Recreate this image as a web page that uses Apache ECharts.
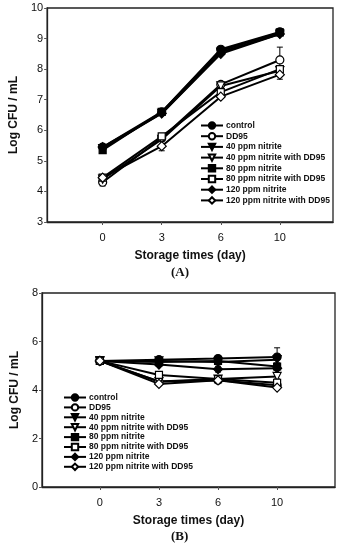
<!DOCTYPE html>
<html><head><meta charset="utf-8">
<script src="https://cdn.jsdelivr.net/npm/echarts@6/dist/echarts.min.js"></script>
<style>html,body{margin:0;padding:0;background:#fff}#c{width:349px;height:550px}</style>
</head><body><div id="c"></div>
<script>
const days = ['0', '3', '6', '10'];
const seriesNames = ['control', 'DD95', '40 ppm nitrite', '40 ppm nitrite with DD95', '80 ppm nitrite', '80 ppm nitrite with DD95', '120 ppm nitrite', '120 ppm nitrite with DD95'];
const yTicksA = [3, 4, 5, 6, 7, 8, 9, 10];
const yTicksB = [0, 2, 4, 6, 8];
// Panel A values
const A_control = [5.45, 6.6, 8.65, 9.22];
const A_DD95 = [4.3, 5.75, 7.5, 8.3];
const A_40 = [5.4, 6.55, 8.55, 9.15];
const A_40DD = [4.4, 5.7, 7.45, 7.95];
const A_80 = [5.35, 6.6, 8.6, 9.2];
const A_80DD = [4.45, 5.8, 7.25, 8.0];
const A_120 = [5.45, 6.55, 8.5, 9.15];
const A_120DD = [4.45, 5.48, 7.1, 7.82];
// Panel B values
const B_control = [5.2, 5.25, 5.3, 5.36];
const B_DD95 = [5.2, 4.35, 4.4, 4.2];
const B_40 = [5.2, 5.2, 5.15, 5.25];
const B_40DD = [5.2, 4.35, 4.45, 4.56];
const B_80 = [5.2, 5.15, 5.2, 4.97];
const B_80DD = [5.2, 4.62, 4.45, 4.3];
const B_120 = [5.2, 5.05, 4.86, 4.9];
const B_120DD = [5.2, 4.25, 4.4, 4.1];
// error bars [series index, day index, error]
const A_err = [[1, 0, 0.12], [1, 3, 0.42], [7, 1, 0.15], [7, 3, 0.15], [0, 3, 0.06], [5, 3, 0.1]];
const B_err = [[0, 3, 0.38], [4, 3, 0.15], [6, 2, 0.12], [5, 2, 0.12], [3, 3, 0.1]];

const A_vals = [A_control, A_DD95, A_40, A_40DD, A_80, A_80DD, A_120, A_120DD];
const B_vals = [B_control, B_DD95, B_40, B_40DD, B_80, B_80DD, B_120, B_120DD];

const symbols = ['circle', 'circle', 'triangle', 'triangle', 'rect', 'rect', 'diamond', 'diamond'];
const rotates = [0, 0, 180, 180, 0, 0, 0, 0];
const sizes = [8, 8, 8, 8, 7, 7, 9, 9];
const filled = [true, false, true, false, true, false, true, false];

const FONT = 'Liberation Sans, Arial, sans-serif';
const chart = echarts.init(document.getElementById('c'), null, {renderer: 'canvas'});

function xAxis(gi, min, max) {
  return {
    type: 'value', gridIndex: gi, min: min, max: max,
    name: 'Storage times (day)', nameLocation: 'middle', nameGap: 28,
    nameTextStyle: {fontFamily: FONT, fontWeight: 'bold', fontSize: 12, color: '#111'},
    axisLine: {show: true, onZero: false, lineStyle: {color: '#222', width: 1.3}},
    axisTick: {show: true, customValues: [0, 1, 2, 3], length: 3, lineStyle: {color: '#555'}},
    axisLabel: {customValues: [0, 1, 2, 3], margin: 10, fontFamily: FONT, fontSize: 11, color: '#111',
      formatter: v => days[Math.round(v)]},
    splitLine: {show: false}
  };
}
function yAxis(gi, ticks) {
  return {
    type: 'value', gridIndex: gi, min: ticks[0], max: ticks[ticks.length - 1], interval: ticks[1] - ticks[0],
    name: 'Log CFU / mL', nameLocation: 'middle', nameGap: 21,
    nameTextStyle: {fontFamily: FONT, fontWeight: 'bold', fontSize: 12, color: '#111'},
    axisLine: {show: true, onZero: false, lineStyle: {color: '#222', width: 1.3}},
    axisTick: {show: true, length: 3, lineStyle: {color: '#555'}},
    axisLabel: {margin: 4, fontFamily: FONT, fontSize: 11, color: '#111'},
    splitLine: {show: false}
  };
}

const series = [];
function addPanel(vals, errs, gi) {
  vals.forEach((v, i) => {
    series.push({
      type: 'line', name: seriesNames[i], xAxisIndex: gi, yAxisIndex: gi,
      data: v.map((y, k) => [k, y]),
      symbol: symbols[i], symbolRotate: rotates[i], symbolSize: sizes[i],
      showAllSymbol: true,
      lineStyle: {color: '#000', width: 2},
      itemStyle: {color: filled[i] ? '#000' : '#fff', borderColor: '#000', borderWidth: 1.2},
      emphasis: {disabled: true}, animation: false, z: filled[i] ? 3 : 4
    });
  });
  series.push({
    type: 'custom', xAxisIndex: gi, yAxisIndex: gi, animation: false, z: 2,
    data: errs.map(e => [e[1], vals[e[0]][e[1]], e[2]]),
    renderItem: function (params, api) {
      const x = api.value(0), y = api.value(1), e = api.value(2);
      const hi = api.coord([x, y + e]), lo = api.coord([x, y - e]);
      const c = 3;
      return {type: 'group', children: [
        {type: 'line', shape: {x1: hi[0], y1: hi[1], x2: lo[0], y2: lo[1]}, style: {stroke: '#000', lineWidth: 1}},
        {type: 'line', shape: {x1: hi[0] - c, y1: hi[1], x2: hi[0] + c, y2: hi[1]}, style: {stroke: '#000', lineWidth: 1}},
        {type: 'line', shape: {x1: lo[0] - c, y1: lo[1], x2: lo[0] + c, y2: lo[1]}, style: {stroke: '#000', lineWidth: 1}}
      ]};
    }
  });
}
addPanel(A_vals, A_err, 0);
addPanel(B_vals, B_err, 1);

function legend(gi, left, top, gap) {
  return {
    show: true, left: left, top: top, orient: 'vertical', itemGap: gap,
    itemWidth: 22, itemHeight: 8, padding: 0,
    data: seriesNames.map(n => ({name: n})),
    textStyle: {fontFamily: FONT, fontWeight: 'bold', fontSize: 8.5, lineHeight: 9, color: '#111', padding: [0, 0, 0, -2]},
    selectedMode: false
  };
}

chart.setOption({
  animation: false,
  backgroundColor: '#fff',
  grid: [
    {left: 44, right: 16, top: 8, bottom: 328, show: true, borderColor: '#222', borderWidth: 1.3, backgroundColor: 'transparent'},
    {left: 42, right: 14, top: 293, bottom: 63, show: true, borderColor: '#222', borderWidth: 1.3, backgroundColor: 'transparent'}
  ],
  xAxis: [xAxis(0, -0.94, 3.9), xAxis(1, -0.98, 3.98)],
  yAxis: [yAxis(0, yTicksA), yAxis(1, yTicksB)],
  legend: [legend(0, 200, 121, 1.7), legend(1, 63, 393, 0.9)],
  series: series,
  graphic: [
    {type: 'text', left: 171, top: 266, style: {text: '(A)', font: 'bold 13px "Liberation Serif", serif', fill: '#111'}},
    {type: 'text', left: 171, top: 530, style: {text: '(B)', font: 'bold 13px "Liberation Serif", serif', fill: '#111'}}
  ]
});
</script></body></html>
